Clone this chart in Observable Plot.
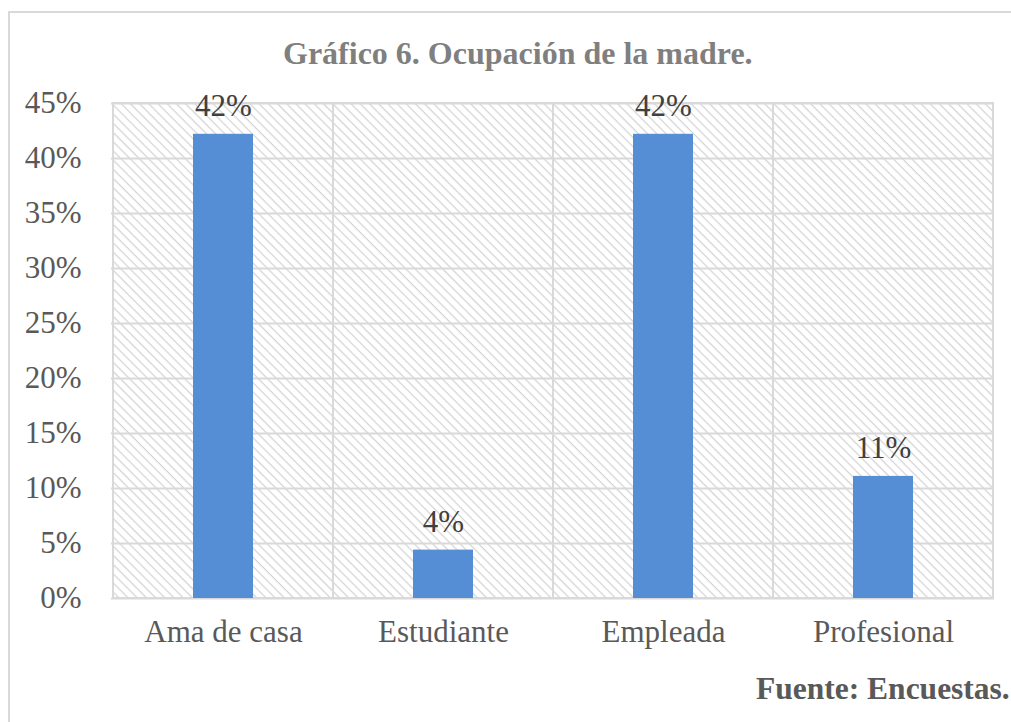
<!DOCTYPE html>
<html>
<head>
<meta charset="utf-8">
<script src="https://cdn.jsdelivr.net/npm/d3@7"></script>
<script src="https://cdn.jsdelivr.net/npm/@observablehq/plot@0.6"></script>
<style>
  html, body { margin: 0; padding: 0; background: #fff; overflow: hidden; }
  #wrap { position: relative; width: 1011px; height: 722px; overflow: hidden; font-family: "Liberation Serif", "Times New Roman", serif; }
  #border { position: absolute; left: 8px; top: 11px; width: 1100px; height: 800px; border: 2px solid #d9d9d9; box-sizing: border-box; }
  #title { position: absolute; left: 283px; top: 34px; font-size: 32px; font-weight: bold; color: #7f7f7f; white-space: nowrap; line-height: 1.2; }
  #caption { position: absolute; left: 756px; top: 670px; font-size: 31.5px; font-weight: bold; color: #595959; white-space: nowrap; line-height: 1.2; }
  #chart { position: absolute; left: 0; top: 0; }
</style>
</head>
<body>
<div id="wrap">
  <div id="border"></div>
  <div id="chart"></div>
  <div id="title">Gráfico 6. Ocupación de la madre.</div>
  <div id="caption">Fuente: Encuestas.</div>
</div>
<script>
const categories = ["Ama de casa", "Estudiante", "Empleada", "Profesional"];
const values = [0.422, 0.044, 0.422, 0.111];
const yTicks = [0, 0.05, 0.10, 0.15, 0.20, 0.25, 0.30, 0.35, 0.40, 0.45];

const data = categories.map((c, i) => ({cat: c, value: values[i]}));
const pct = d3.format(".0%");

const svg = Plot.plot({
  width: 1011,
  height: 722,
  marginLeft: 111,
  marginRight: 17,
  marginTop: 103,
  marginBottom: 124,
  style: {fontFamily: "'Liberation Serif', 'Times New Roman', serif", fontSize: "31px", color: "#595959", background: "transparent", overflow: "visible"},
  x: {domain: categories, padding: 0, label: null, tickSize: 0, tickPadding: 21},
  y: {domain: [0, 0.45], ticks: yTicks, tickFormat: pct, label: null, tickSize: 0, tickPadding: 30},
  marks: [
    Plot.cell(categories, {x: d => d, fill: "url(#hatch)", inset: 0}),
    Plot.gridY(yTicks, {stroke: "#d9d9d9", strokeOpacity: 1, strokeWidth: 2}),
    Plot.cell(categories, {x: d => d, fill: "none", stroke: "#d9d9d9", strokeWidth: 2, inset: 0}),
    Plot.barY(data, {x: "cat", y: "value", fill: "#558ED5", insetLeft: 80, insetRight: 80}),
    Plot.text(data, {x: "cat", y: "value", text: d => pct(d.value), dy: -18, lineAnchor: "bottom", fill: "#404040", fontSize: 31})
  ]
});

d3.select(svg).insert("defs", ":first-child").html(
  '<pattern id="hatch" patternUnits="userSpaceOnUse" width="6.5" height="6.5" patternTransform="rotate(45)">' +
  '<rect width="6.5" height="6.5" fill="#ffffff"/>' +
  '<line x1="0" y1="0.6" x2="6.5" y2="0.6" stroke="#d4d4d4" stroke-width="1.3"/>' +
  '</pattern>'
);

document.getElementById("chart").appendChild(svg);
</script>
</body>
</html>
